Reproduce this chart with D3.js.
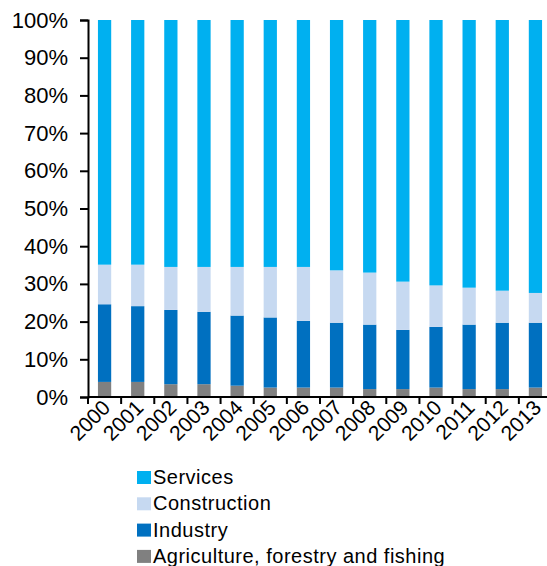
<!DOCTYPE html>
<html>
<head>
<meta charset="utf-8">
<script src="https://cdn.jsdelivr.net/npm/d3@7"></script>
<style>
  body { margin: 0; background: #fff; }
  svg { display: block; font-family: "Liberation Sans", Arial, sans-serif; }
</style>
</head>
<body>
<svg id="chart"></svg>
<script>
const years = ["2000","2001","2002","2003","2004","2005","2006","2007","2008","2009","2010","2011","2012","2013"];
const agriculture = [4.0, 4.0, 3.4, 3.4, 3.0, 2.5, 2.5, 2.5, 2.1, 2.1, 2.5, 2.1, 2.1, 2.5];
const industry = [20.6, 20.1, 19.7, 19.2, 18.6, 18.6, 17.7, 17.2, 17.1, 15.7, 16.1, 17.1, 17.6, 17.2];
const construction = [10.5, 11.0, 11.4, 11.9, 12.9, 13.4, 14.3, 13.9, 13.8, 12.8, 11.0, 9.8, 8.5, 7.9];
const services = [64.9, 64.9, 65.5, 65.5, 65.5, 65.5, 65.5, 66.4, 67.0, 69.4, 70.4, 71.0, 71.8, 72.4];
const seriesNames = ["Agriculture, forestry and fishing", "Industry", "Construction", "Services"];
const yTicks = [0, 10, 20, 30, 40, 50, 60, 70, 80, 90, 100];

const colors = {
  "Agriculture, forestry and fishing": "#808080",
  "Industry": "#0070C0",
  "Construction": "#C6D9F1",
  "Services": "#00B0F0"
};

const width = 547, height = 566;
const svg = d3.select("#chart").attr("width", width).attr("height", height);

const x = d3.scaleBand().domain(years).range([88, 552]).paddingInner(0.6).paddingOuter(0.3);
const y = d3.scaleLinear().domain([0, 100]).range([397, 20]);

const rows = years.map((yr, i) => ({
  year: yr,
  "Agriculture, forestry and fishing": agriculture[i],
  "Industry": industry[i],
  "Construction": construction[i],
  "Services": services[i]
}));
const stacked = d3.stack().keys(seriesNames)(rows);

svg.append("g")
  .selectAll("g")
  .data(stacked)
  .join("g")
  .attr("fill", d => colors[d.key])
  .selectAll("rect")
  .data(d => d)
  .join("rect")
  .attr("x", d => x(d.data.year))
  .attr("width", x.bandwidth())
  .attr("y", d => y(d[1]))
  .attr("height", d => y(d[0]) - y(d[1]));

// y axis
const yAxis = svg.append("g")
  .attr("transform", "translate(88,0)")
  .call(d3.axisLeft(y).tickValues(yTicks).tickFormat(d => d + "%").tickSize(8).tickPadding(12));
yAxis.select(".domain").attr("stroke", "#000").attr("stroke-width", 2);
yAxis.selectAll(".tick line").attr("stroke", "#000").attr("stroke-width", 2);
yAxis.selectAll("text").attr("font-size", 22).attr("fill", "#000")
  .attr("font-family", "Liberation Sans, Arial, sans-serif");

// x axis line and boundary ticks
const step = x.step();
const boundaries = d3.range(years.length + 1).map(i => 88 + i * step);
svg.append("line")
  .attr("x1", 88).attr("x2", 552)
  .attr("y1", y(0)).attr("y2", y(0))
  .attr("stroke", "#000").attr("stroke-width", 2);
svg.append("g").selectAll("line")
  .data(boundaries)
  .join("line")
  .attr("x1", d => d).attr("x2", d => d)
  .attr("y1", y(0)).attr("y2", y(0) + 7)
  .attr("stroke", "#000").attr("stroke-width", 2);

svg.append("g").selectAll("text")
  .data(years)
  .join("text")
  .attr("transform", d => `translate(${x(d) + x.bandwidth() / 2 + 7},${y(0) + 12}) rotate(-45)`)
  .attr("text-anchor", "end")
  .attr("font-size", 21)
  .attr("fill", "#000")
  .text(d => d);

// legend
const legendItems = ["Services", "Construction", "Industry", "Agriculture, forestry and fishing"];
const legend = svg.append("g").attr("transform", "translate(137,484)");
const li = legend.selectAll("g")
  .data(legendItems)
  .join("g")
  .attr("transform", (d, i) => `translate(0,${i * 26.3})`);
li.append("rect")
  .attr("y", -13)
  .attr("width", 14).attr("height", 13)
  .attr("fill", d => colors[d]);
li.append("text")
  .attr("x", 16).attr("y", 0)
  .attr("font-size", 20)
  .attr("letter-spacing", 0.5)
  .attr("fill", "#000")
  .text(d => d);
</script>
</body>
</html>
